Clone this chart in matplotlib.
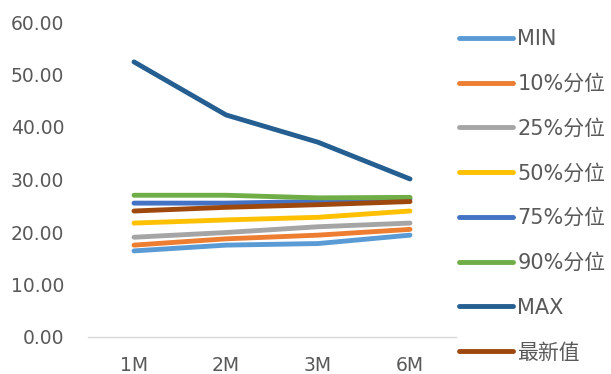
import matplotlib
matplotlib.use("Agg")
import matplotlib.pyplot as plt

plt.rcParams['font.family'] = ['DejaVu Sans', 'Noto Sans CJK SC']

categories = ["1M", "2M", "3M", "6M"]
series_names = ["MIN", "10%分位", "25%分位", "50%分位", "75%分位", "90%分位", "MAX", "最新值"]
s_min = [16.4, 17.5, 17.8, 19.4]
s_p10 = [17.5, 18.7, 19.4, 20.5]
s_p25 = [19.0, 19.9, 21.0, 21.7]
s_p50 = [21.7, 22.3, 22.8, 24.0]
s_p75 = [25.5, 25.5, 25.8, 26.3]
s_p90 = [27.0, 27.0, 26.5, 26.6]
s_max = [52.4, 42.3, 37.1, 30.1]
s_latest = [24.0, 24.7, 25.2, 25.8]
series_values = [s_min, s_p10, s_p25, s_p50, s_p75, s_p90, s_max, s_latest]
colors = ["#5B9BD5", "#ED7D31", "#A5A5A5", "#FFC000", "#4472C4", "#70AD47", "#255E91", "#9E480E"]
y_ticks = [0, 10, 20, 30, 40, 50, 60]

fig = plt.figure(figsize=(6.11, 3.74), dpi=100)
ax = fig.add_axes([88 / 611, 37 / 374, 368 / 611, 315 / 374])

x = list(range(len(categories)))
for name, vals, c in zip(series_names, series_values, colors):
    ax.plot(x, vals, color=c, lw=3.5, solid_capstyle='round', label=name)

ax.set_xlim(-0.5, len(categories) - 0.5)
ax.set_ylim(0, 60)
ax.set_yticks(y_ticks)
ax.set_yticklabels([f"{v:.2f}" for v in y_ticks])
ax.set_xticks(x)
ax.set_xticklabels(categories)
ax.tick_params(axis='both', length=0, labelsize=13.5, colors="#595959")
ax.tick_params(axis='y', pad=17)
ax.tick_params(axis='x', pad=14)
for side in ["top", "right", "left"]:
    ax.spines[side].set_visible(False)
ax.spines["bottom"].set_color("#D9D9D9")
ax.spines["bottom"].set_linewidth(1.0)

handles, labels = ax.get_legend_handles_labels()
leg = fig.legend(handles, labels, loc='upper left', bbox_to_anchor=(459 / 611, 1 - 29 / 374),
                 frameon=False, fontsize=15, handlelength=2.6, handletextpad=0.2,
                 labelspacing=1.19, borderaxespad=0, borderpad=0)
for t in leg.get_texts():
    t.set_color("#595959")
for h in leg.legend_handles:
    h.set_linewidth(3.5)

fig.savefig("out.png", dpi=100)
